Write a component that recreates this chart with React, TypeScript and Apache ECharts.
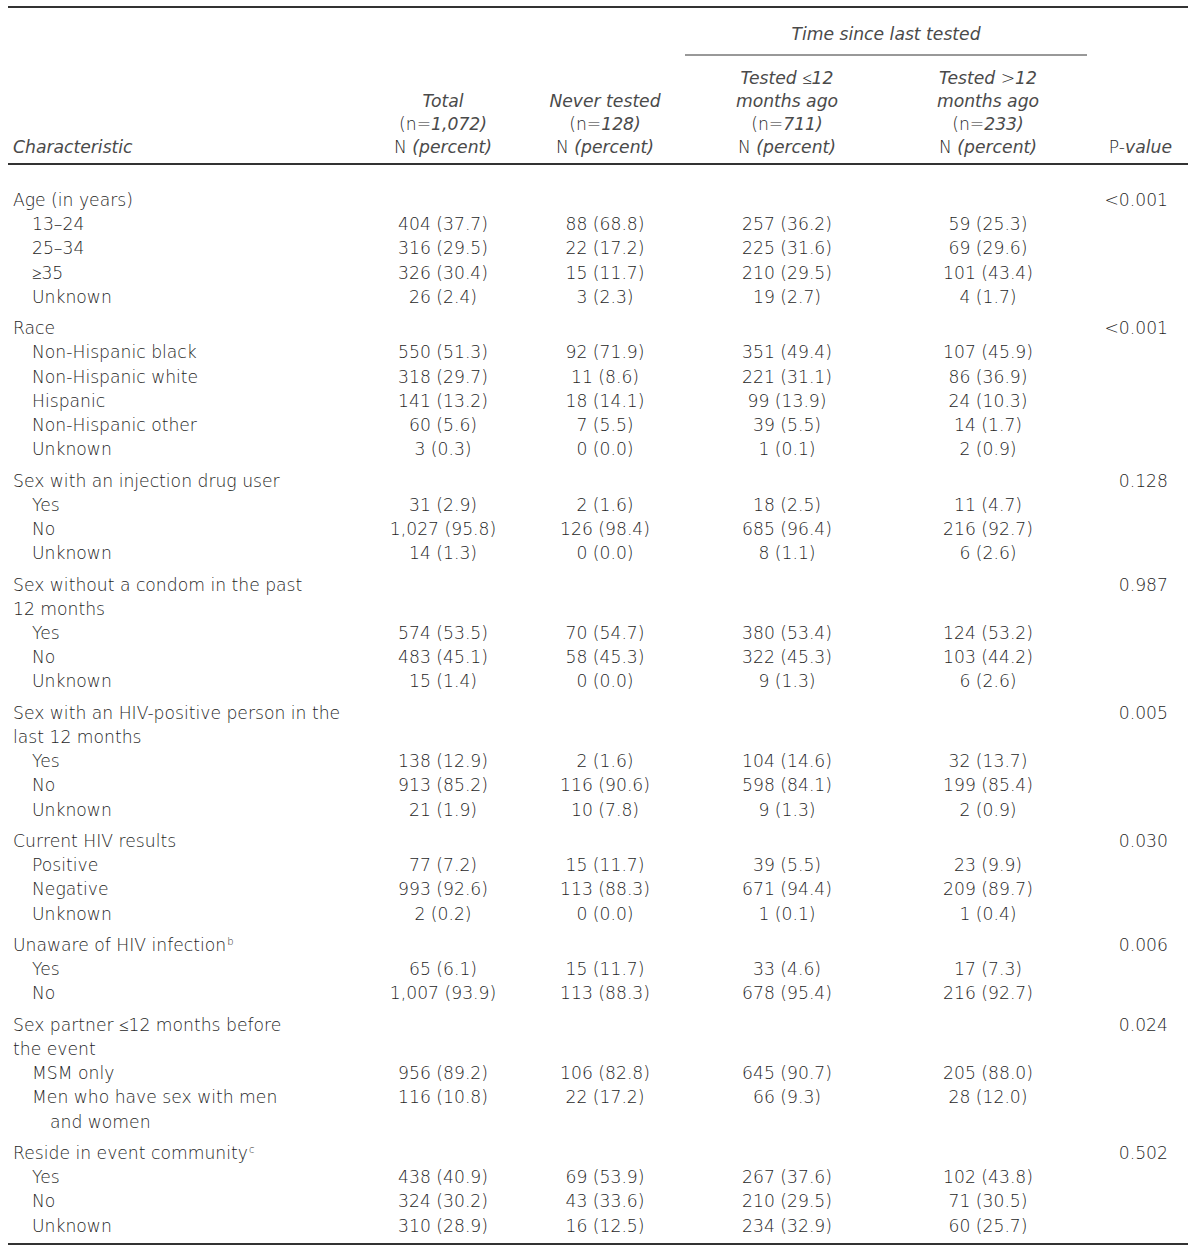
import React, { useEffect, useRef } from "react";
import * as echarts from "echarts";

// Row labels: level 0 = characteristic, 1 = category, 2 = wrapped continuation of a characteristic, 3 = wrapped continuation of a category
const rowLabels: string[] = [
  "Age (in years)", "13–24", "25–34", "≥35", "Unknown",
  "Race", "Non-Hispanic black", "Non-Hispanic white", "Hispanic", "Non-Hispanic other", "Unknown",
  "Sex with an injection drug user", "Yes", "No", "Unknown",
  "Sex without a condom in the past", "12 months", "Yes", "No", "Unknown",
  "Sex with an HIV-positive person in the", "last 12 months", "Yes", "No", "Unknown",
  "Current HIV results", "Positive", "Negative", "Unknown",
  "Unaware of HIV infection{sup|b}", "Yes", "No",
  "Sex partner ≤12 months before", "the event", "MSM only", "Men who have sex with men", "and women",
  "Reside in event community{sup|c}", "Yes", "No", "Unknown",
];
const rowLevels: number[] = [
  0, 1, 1, 1, 1,
  0, 1, 1, 1, 1, 1,
  0, 1, 1, 1,
  0, 2, 1, 1, 1,
  0, 2, 1, 1, 1,
  0, 1, 1, 1,
  0, 1, 1,
  0, 2, 1, 1, 3,
  0, 1, 1, 1,
];
const totalCol: string[] = [
  "", "404 (37.7)", "316 (29.5)", "326 (30.4)", "26 (2.4)",
  "", "550 (51.3)", "318 (29.7)", "141 (13.2)", "60 (5.6)", "3 (0.3)",
  "", "31 (2.9)", "1,027 (95.8)", "14 (1.3)",
  "", "", "574 (53.5)", "483 (45.1)", "15 (1.4)",
  "", "", "138 (12.9)", "913 (85.2)", "21 (1.9)",
  "", "77 (7.2)", "993 (92.6)", "2 (0.2)",
  "", "65 (6.1)", "1,007 (93.9)",
  "", "", "956 (89.2)", "116 (10.8)", "",
  "", "438 (40.9)", "324 (30.2)", "310 (28.9)",
];
const neverCol: string[] = [
  "", "88 (68.8)", "22 (17.2)", "15 (11.7)", "3 (2.3)",
  "", "92 (71.9)", "11 (8.6)", "18 (14.1)", "7 (5.5)", "0 (0.0)",
  "", "2 (1.6)", "126 (98.4)", "0 (0.0)",
  "", "", "70 (54.7)", "58 (45.3)", "0 (0.0)",
  "", "", "2 (1.6)", "116 (90.6)", "10 (7.8)",
  "", "15 (11.7)", "113 (88.3)", "0 (0.0)",
  "", "15 (11.7)", "113 (88.3)",
  "", "", "106 (82.8)", "22 (17.2)", "",
  "", "69 (53.9)", "43 (33.6)", "16 (12.5)",
];
const within12Col: string[] = [
  "", "257 (36.2)", "225 (31.6)", "210 (29.5)", "19 (2.7)",
  "", "351 (49.4)", "221 (31.1)", "99 (13.9)", "39 (5.5)", "1 (0.1)",
  "", "18 (2.5)", "685 (96.4)", "8 (1.1)",
  "", "", "380 (53.4)", "322 (45.3)", "9 (1.3)",
  "", "", "104 (14.6)", "598 (84.1)", "9 (1.3)",
  "", "39 (5.5)", "671 (94.4)", "1 (0.1)",
  "", "33 (4.6)", "678 (95.4)",
  "", "", "645 (90.7)", "66 (9.3)", "",
  "", "267 (37.6)", "210 (29.5)", "234 (32.9)",
];
const over12Col: string[] = [
  "", "59 (25.3)", "69 (29.6)", "101 (43.4)", "4 (1.7)",
  "", "107 (45.9)", "86 (36.9)", "24 (10.3)", "14 (1.7)", "2 (0.9)",
  "", "11 (4.7)", "216 (92.7)", "6 (2.6)",
  "", "", "124 (53.2)", "103 (44.2)", "6 (2.6)",
  "", "", "32 (13.7)", "199 (85.4)", "2 (0.9)",
  "", "23 (9.9)", "209 (89.7)", "1 (0.4)",
  "", "17 (7.3)", "216 (92.7)",
  "", "", "205 (88.0)", "28 (12.0)", "",
  "", "102 (43.8)", "71 (30.5)", "60 (25.7)",
];
const pValueCol: string[] = [
  "<0.001", "", "", "", "",
  "<0.001", "", "", "", "", "",
  "0.128", "", "", "",
  "0.987", "", "", "", "",
  "0.005", "", "", "", "",
  "0.030", "", "", "",
  "0.006", "", "",
  "0.024", "", "", "", "",
  "0.502", "", "", "",
];
const headerTitles: string[][] = [
  ["{i|Total}", "(n={i|1,072)}", "N {i|(percent)}"],
  ["{i|Never tested}", "(n={i|128)}", "N {i|(percent)}"],
  ["{i|Tested} ≤{i|12}", "{i|months ago}", "(n={i|711)}", "N {i|(percent)}"],
  ["{i|Tested} >{i|12}", "{i|months ago}", "(n={i|233)}", "N {i|(percent)}"],
];

const FONT = "'DejaVu Sans ExtraLight', 'DejaVu Sans'";
const COLOR = "#1e1e1e";
const ITALIC_COLOR = "#4a4a4a";
const FS = 17.2;
const FW = 200;

export default function App() {
  const ref = useRef<HTMLDivElement>(null);
  useEffect(() => {
    if (!ref.current) return;
    const chart = echarts.init(ref.current, undefined, { renderer: "svg" });
    const rich = {
      i: { fontStyle: "italic", fontFamily: FONT, fontSize: FS, fontWeight: FW, fill: ITALIC_COLOR },
      sup: { fontFamily: FONT, fontSize: 10, fontWeight: FW, fill: COLOR, verticalAlign: "top", padding: [0, 0, 8, 1] },
    };
    const els: any[] = [];
    const txt = (text: string, x: number, y: number, align: string) => ({
      type: "text",
      x,
      y,
      silent: true,
      style: {
        text,
        x: 0,
        y: 0,
        fill: COLOR,
        fontFamily: FONT,
        fontSize: FS,
        fontWeight: FW,
        textAlign: align,
        textVerticalAlign: "middle",
        rich,
      },
    });
    const line = (x1: number, y1: number, x2: number, y2: number, w: number) => ({
      type: "line",
      silent: true,
      shape: { x1, y1, x2, y2 },
      style: { stroke: "#333", lineWidth: w },
    });

    // rules
    els.push(line(8, 7, 1188, 7, 2));
    els.push(line(8, 164, 1188, 164, 2));
    els.push(line(8, 1244, 1188, 1244, 2));
    els.push(line(685, 55, 1087, 55, 1));

    // header
    els.push(txt("{i|Time since last tested}", 886, 34, "center"));
    els.push(txt("{i|Characteristic}", 13, 147, "left"));
    els.push(txt("P-{i|value}", 1172, 147, "right"));
    const colX = [443, 605, 787, 988];
    headerTitles.forEach((lines, c) => {
      const n = lines.length;
      lines.forEach((t, k) => {
        const y = 147 - (n - 1 - k) * 23;
        els.push(txt(t, colX[c], y, "center"));
      });
    });

    // body
    const cols = [totalCol, neverCol, within12Col, over12Col];
    let y = 200;
    rowLabels.forEach((lab, r) => {
      const lvl = rowLevels[r];
      if (r > 0 && lvl === 0) y += 7.2;
      const lx = lvl === 0 || lvl === 2 ? 13 : lvl === 1 ? 32 : 50;
      els.push(txt(lab, lx, y, "left"));
      cols.forEach((col, c) => {
        if (col[r]) els.push(txt(col[r], colX[c], y, "center"));
      });
      if (pValueCol[r]) els.push(txt(pValueCol[r], 1168, y, "right"));
      if (r < rowLabels.length - 1) y += 24.2;
    });

    chart.setOption({
      animation: false,
      backgroundColor: "#ffffff",
      graphic: { elements: els },
    });
    return () => chart.dispose();
  }, []);
  return (
    <div
      ref={ref}
      style={{ position: "absolute", left: 0, top: 0, width: 1200, height: 1251 }}
    />
  );
}
